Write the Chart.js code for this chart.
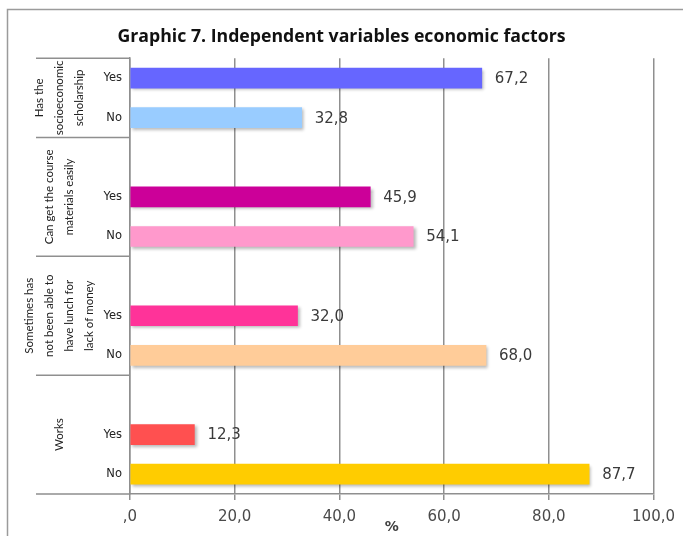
<!DOCTYPE html>
<html>
<head>
<meta charset="utf-8">
<script src="https://cdn.jsdelivr.net/npm/chart.js"></script>
<style>
html, body { margin: 0; padding: 0; background: #fff; overflow: hidden; }
</style>
</head>
<body>
<canvas id="bar_chart" width="683" height="536"></canvas>
<script>
// chart data (blank slots are the gaps between groups)
const titleText = 'Graphic 7. Independent variables economic factors';
const categories = ['Yes', 'No', '', 'Yes', 'No', '', 'Yes', 'No', '', 'Yes', 'No'];
const percents = [67.2, 32.8, null, 45.9, 54.1, null, 32.0, 68.0, null, 12.3, 87.7];
const barColors = ['#6666ff', '#99ccff', null, '#cc0099', '#ff99cc', null,
                   '#ff3399', '#ffcc99', null, '#ff5050', '#ffcc00'];
const groupNames = [
    ['Has the', 'socioeconomic', 'scholarship'],
    ['Can get the course', 'materials easily'],
    ['Sometimes has', 'not been able to', 'have lunch for', 'lack of money'],
    ['Works']
];
const groupFirst = [0, 2, 5, 8];
const groupLast = [1, 4, 7, 10];
const xTickLabels = [',0', '20,0', '40,0', '60,0', '80,0', '100,0'];
const xTitle = '%';

const lineGrey = '#8f8f8f';

// grey frame of the chart object (only left and top edges are in view)
const frame = {
    id: 'frame',
    beforeDraw(chart) {
        const c = chart.ctx;
        c.save();
        c.strokeStyle = '#9b9b9b';
        c.lineWidth = 1.5;
        c.beginPath();
        c.moveTo(7.5, chart.height);
        c.lineTo(7.5, 9.5);
        c.lineTo(chart.width, 9.5);
        c.stroke();
        c.restore();
    }
};

// soft shadow under the bars
const barShadow = {
    id: 'barShadow',
    beforeDatasetsDraw(chart) {
        const c = chart.ctx;
        c.save();
        c.shadowColor = 'rgba(0,0,0,0.28)';
        c.shadowBlur = 3;
        c.shadowOffsetX = 2;
        c.shadowOffsetY = 2;
    },
    afterDatasetsDraw(chart) {
        chart.ctx.restore();
    }
};

// numbers at the end of each bar
const valueLabels = {
    id: 'valueLabels',
    afterDatasetsDraw(chart) {
        const c = chart.ctx;
        const meta = chart.getDatasetMeta(0);
        c.save();
        c.font = '15px "DejaVu Sans"';
        c.fillStyle = '#3a3a3a';
        c.textBaseline = 'middle';
        meta.data.forEach((bar, i) => {
            if (percents[i] == null) return;
            c.fillText(percents[i].toFixed(1).replace('.', ','), bar.x + 13, bar.y + 1);
        });
        c.restore();
    }
};

// second level of the category axis: rotated group names + separators
const groupAxis = {
    id: 'groupAxis',
    afterDraw(chart) {
        const c = chart.ctx;
        const y = chart.scales.y;
        const area = chart.chartArea;
        const slot = y.getPixelForValue(1) - y.getPixelForValue(0);
        c.save();
        c.strokeStyle = lineGrey;
        c.lineWidth = 1.5;
        groupFirst.forEach((first, g) => {
            const top = y.getPixelForValue(first) - slot / 2;
            const bottom = y.getPixelForValue(groupLast[g]) + slot / 2;
            c.beginPath();
            c.moveTo(36, top);
            c.lineTo(area.left, top);
            if (g == groupFirst.length - 1) {
                c.moveTo(36, bottom);
                c.lineTo(area.left, bottom);
            }
            c.stroke();

            const lines = groupNames[g];
            c.save();
            c.translate(59, (top + bottom) / 2);
            c.rotate(-Math.PI / 2);
            c.font = '11.5px Lato';
            c.fillStyle = '#222';
            c.textAlign = 'center';
            c.textBaseline = 'middle';
            lines.forEach((t, k) => c.fillText(t, 0, (k - (lines.length - 1) / 2) * 20));
            c.restore();
        });
        c.restore();
    }
};

const ctx = document.getElementById('bar_chart').getContext('2d');
const myChart = new Chart(ctx, {
    type: 'bar',
    data: {
        labels: categories,
        datasets: [{
            data: percents,
            backgroundColor: barColors,
            borderWidth: 0,
            barThickness: 20
        }]
    },
    options: {
        indexAxis: 'y',
        responsive: false,
        animation: false,
        layout: { padding: { left: 28, right: 28, top: 0, bottom: 0 } },
        plugins: {
            legend: { display: false },
            tooltip: { enabled: false },
            title: {
                display: true,
                text: titleText,
                color: '#111',
                font: { family: 'Open Sans', size: 17.7, weight: 'bold' },
                padding: { top: 26, bottom: 11 }
            }
        },
        scales: {
            x: {
                min: 0,
                max: 100,
                ticks: {
                    stepSize: 20,
                    callback: (v, i) => xTickLabels[i],
                    font: { family: 'DejaVu Sans', size: 15 },
                    color: '#4a4a4a',
                    padding: 8
                },
                grid: { color: lineGrey, lineWidth: 1.5, tickLength: 6 },
                border: { color: lineGrey, width: 1.5 },
                title: {
                    display: true,
                    text: xTitle,
                    color: '#404040',
                    font: { family: 'DejaVu Sans', size: 14, weight: 'bold' },
                    padding: 0
                },
                afterFit(s) { s.height = 42; }
            },
            y: {
                ticks: {
                    font: { family: 'DejaVu Sans', size: 11.5 },
                    color: '#222',
                    padding: 8
                },
                grid: { display: false, drawTicks: false },
                border: { color: lineGrey, width: 1.5 },
                afterFit(s) { s.width = 102; }
            }
        }
    },
    plugins: [frame, barShadow, valueLabels, groupAxis]
});
</script>
</body>
</html>
